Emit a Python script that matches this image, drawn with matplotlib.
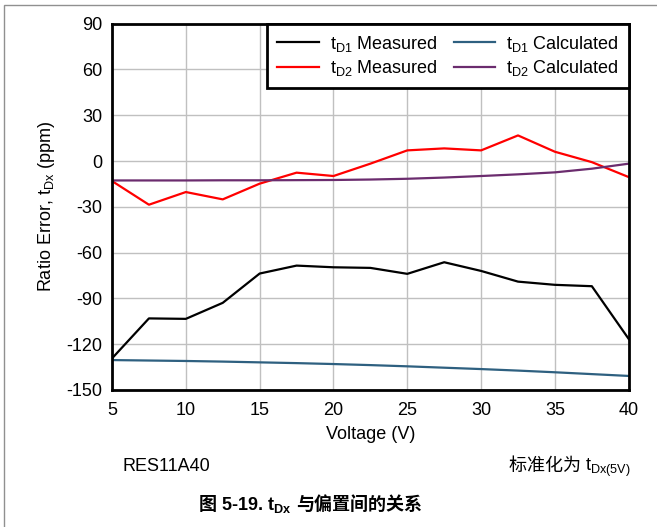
import matplotlib.pyplot as plt
from matplotlib.patches import Rectangle

plt.rcParams['font.family'] = ['Liberation Sans', 'Noto Sans CJK SC', 'DejaVu Sans']
plt.rcParams['axes.unicode_minus'] = False

voltage = [5, 7.5, 10, 12.5, 15, 17.5, 20, 22.5, 25, 27.5, 30, 32.5, 35, 37.5, 40]
td1_measured = [-129.3, -103.1, -103.4, -92.9, -73.7, -68.5, -69.6, -70.0, -73.9, -66.3, -72.0, -79.0, -81.1, -82.0, -116.6]
td2_measured = [-13.1, -28.6, -20.3, -25.1, -14.8, -7.6, -9.8, -1.7, 7.0, 8.3, 7.0, 16.8, 6.1, -0.7, -10.5]
td1_calculated = [-130.4, -130.7, -131.0, -131.4, -131.9, -132.4, -133.0, -133.7, -134.5, -135.4, -136.3, -137.3, -138.4, -139.6, -140.8]
td2_calculated = [-12.7, -12.7, -12.7, -12.6, -12.6, -12.5, -12.4, -12.1, -11.6, -10.8, -9.8, -8.7, -7.4, -5.0, -1.7]

x_ticks = [5, 10, 15, 20, 25, 30, 35, 40]
y_ticks = [90, 60, 30, 0, -30, -60, -90, -120, -150]

FS = 13
CJK = 'Noto Sans CJK SC'

fig = plt.figure(figsize=(6.57, 5.27), dpi=100)
ax = fig.add_axes([0.1705, 0.26, 0.7865, 0.695])

ax.plot(voltage, td1_measured, color='black', lw=1.6, label='t$_{\\mathregular{D1}}$ Measured')
ax.plot(voltage, td2_measured, color='#ff0000', lw=1.6, label='t$_{\\mathregular{D2}}$ Measured')
ax.plot(voltage, td1_calculated, color='#2e6080', lw=1.6, label='t$_{\\mathregular{D1}}$ Calculated')
ax.plot(voltage, td2_calculated, color='#6b2c6e', lw=1.6, label='t$_{\\mathregular{D2}}$ Calculated')

ax.set_xlim(5, 40)
ax.set_ylim(-150, 90)
ax.set_xticks(x_ticks)
ax.set_yticks(y_ticks)
ax.tick_params(length=0, pad=7, labelsize=FS)
ax.tick_params(axis='x', pad=9)
ax.grid(color='#c0c0c0', lw=1)
ax.set_axisbelow(True)
for s in ax.spines.values():
    s.set_linewidth(2)

ax.set_xlabel('Voltage (V)', fontsize=FS, labelpad=5)
ax.set_ylabel('Ratio Error, t$_{\\mathregular{Dx}}$ (ppm)', fontsize=FS, labelpad=7)

leg = ax.legend(ncol=2, loc='upper right', bbox_to_anchor=(1.0, 1.0), fontsize=FS,
                fancybox=False, framealpha=1, edgecolor='black', borderaxespad=0,
                handlelength=2.3, handletextpad=0.6, columnspacing=0.9,
                labelspacing=0.25, borderpad=0.55)
leg.get_frame().set_linewidth(2)

renderer = fig.canvas.get_renderer()


def text_row(x, y, pieces, ha='left', gap=0.0, **kw):
    # lay mixed-font pieces side by side on one baseline
    arts = [fig.text(0, y, s, family=fam, fontsize=FS, va='baseline', **kw) for s, fam in pieces]
    inv = fig.transFigure.inverted()
    widths = []
    for a in arts:
        bb = a.get_window_extent(renderer)
        widths.append(inv.transform((bb.x1, 0))[0] - inv.transform((bb.x0, 0))[0] + gap)
    widths[-1] -= gap
    total = sum(widths)
    start = {'left': x, 'right': x - total, 'center': x - total / 2}[ha]
    for a, w in zip(arts, widths):
        a.set_x(start)
        start += w


text_row(0.187, 0.107, [('RES11A40', 'Liberation Sans')])
text_row(0.96, 0.107, [('标准化为 ', CJK), ('t$_{\\mathregular{Dx(5V)}}$', 'Liberation Sans')], ha='right')
text_row(0.472, 0.033, [('图', CJK), ('5-19. t$_{\\mathregular{Dx}}$', 'Liberation Sans'),
                        ('与偏置间的关系', CJK)], ha='center', gap=0.007, fontweight='bold')

fig.patches.append(Rectangle((4 / 657, -0.1), 1.2, 1.09, transform=fig.transFigure,
                             fill=False, edgecolor='#909090', lw=1))

fig.savefig('out.png', dpi=100)
